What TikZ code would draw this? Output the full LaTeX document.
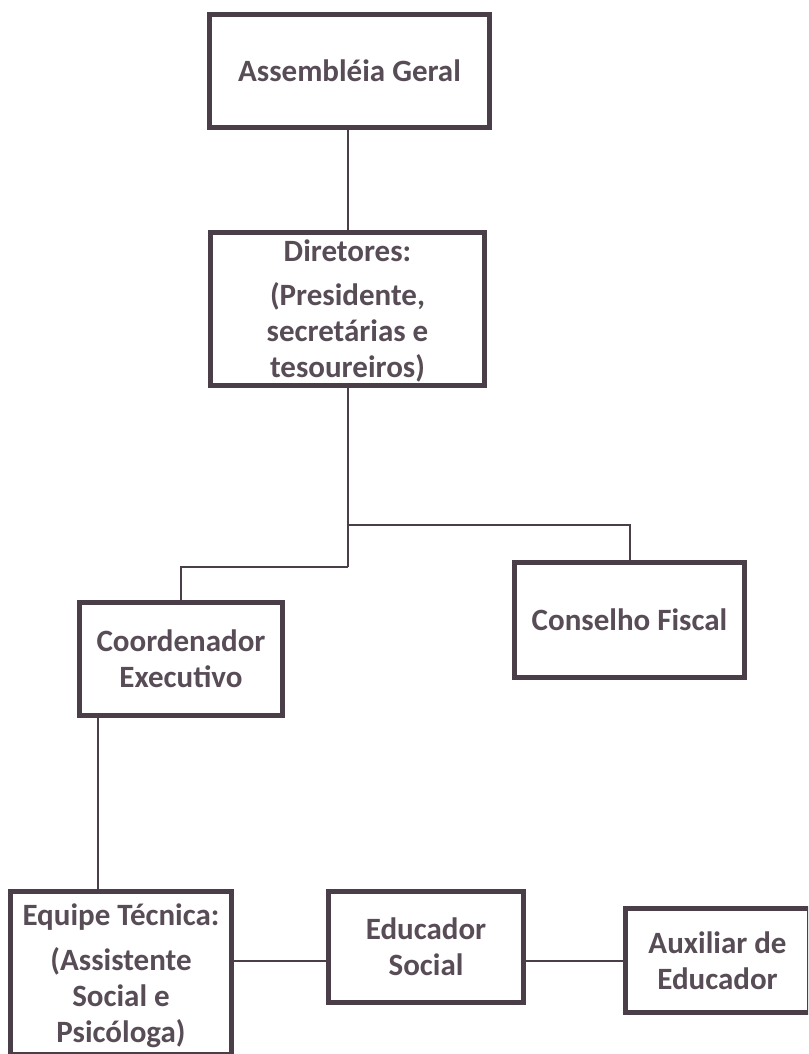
\documentclass[tikz,border=0pt]{standalone}
\usepackage{fontspec}
\setmainfont{Carlito}
\definecolor{boxline}{RGB}{74,63,72}
\definecolor{txt}{RGB}{88,76,86}
\begin{document}
\begin{tikzpicture}[x=1pt,y=-1pt,
  box/.style={draw=boxline, line width=5pt, rectangle, inner sep=0pt, align=center,
    text=txt, font=\fontsize{31}{36}\selectfont\bfseries, fill=white},
  conn/.style={draw=boxline, line width=2pt}]
\path[use as bounding box, fill=white] (0,0) rectangle (808,1054);
\clip (0,0) rectangle (808,1054);
\node[box, minimum width=280pt, minimum height=113pt] (A) at (349.5,71) {Assembléia Geral};
\node[box, minimum width=274pt, minimum height=153pt] (D) at (347.5,309)
  {\rule{0pt}{26pt}Diretores:\\[8pt](Presidente,\\secretárias e\\tesoureiros)};
\node[box, minimum width=221pt, minimum height=163pt] (EQ) at (121,973)
  {\rule{0pt}{27pt}Equipe Técnica:\\[9pt](Assistente\\Social e\\Psicóloga)};
\node[box, minimum width=230pt, minimum height=115pt] (CF) at (629.5,620) {Conselho Fiscal};
\node[box, minimum width=203pt, minimum height=113pt] (CE) at (181,659) {Coordenador\\Executivo};
\node[box, minimum width=195pt, minimum height=111pt] (ED) at (426,947) {Educador\\Social};
\node[box, minimum width=184pt, minimum height=104pt] (AU) at (717.5,960.5) {Auxiliar de\\Educador};
\coordinate (j1) at (348,525);
\coordinate (j2) at (348,567);
\coordinate (k) at (98,0);
\coordinate (row) at (0,961);
\begin{scope}[on background layer/.try]
\draw[conn] (D.north -| j1) -- (A.south -| j1);
\draw[conn] (D.south -| j1) -- (j2);
\draw[conn] (j1) -| (CF.north);
\draw[conn] (j2) -| (CE.north);
\draw[conn] (CE.south -| k) -- (EQ.north -| k);
\draw[conn] (EQ.east |- row) -- (ED.west |- row);
\draw[conn] (ED.east |- row) -- (AU.west |- row);
\end{scope}
\end{tikzpicture}
\end{document}
